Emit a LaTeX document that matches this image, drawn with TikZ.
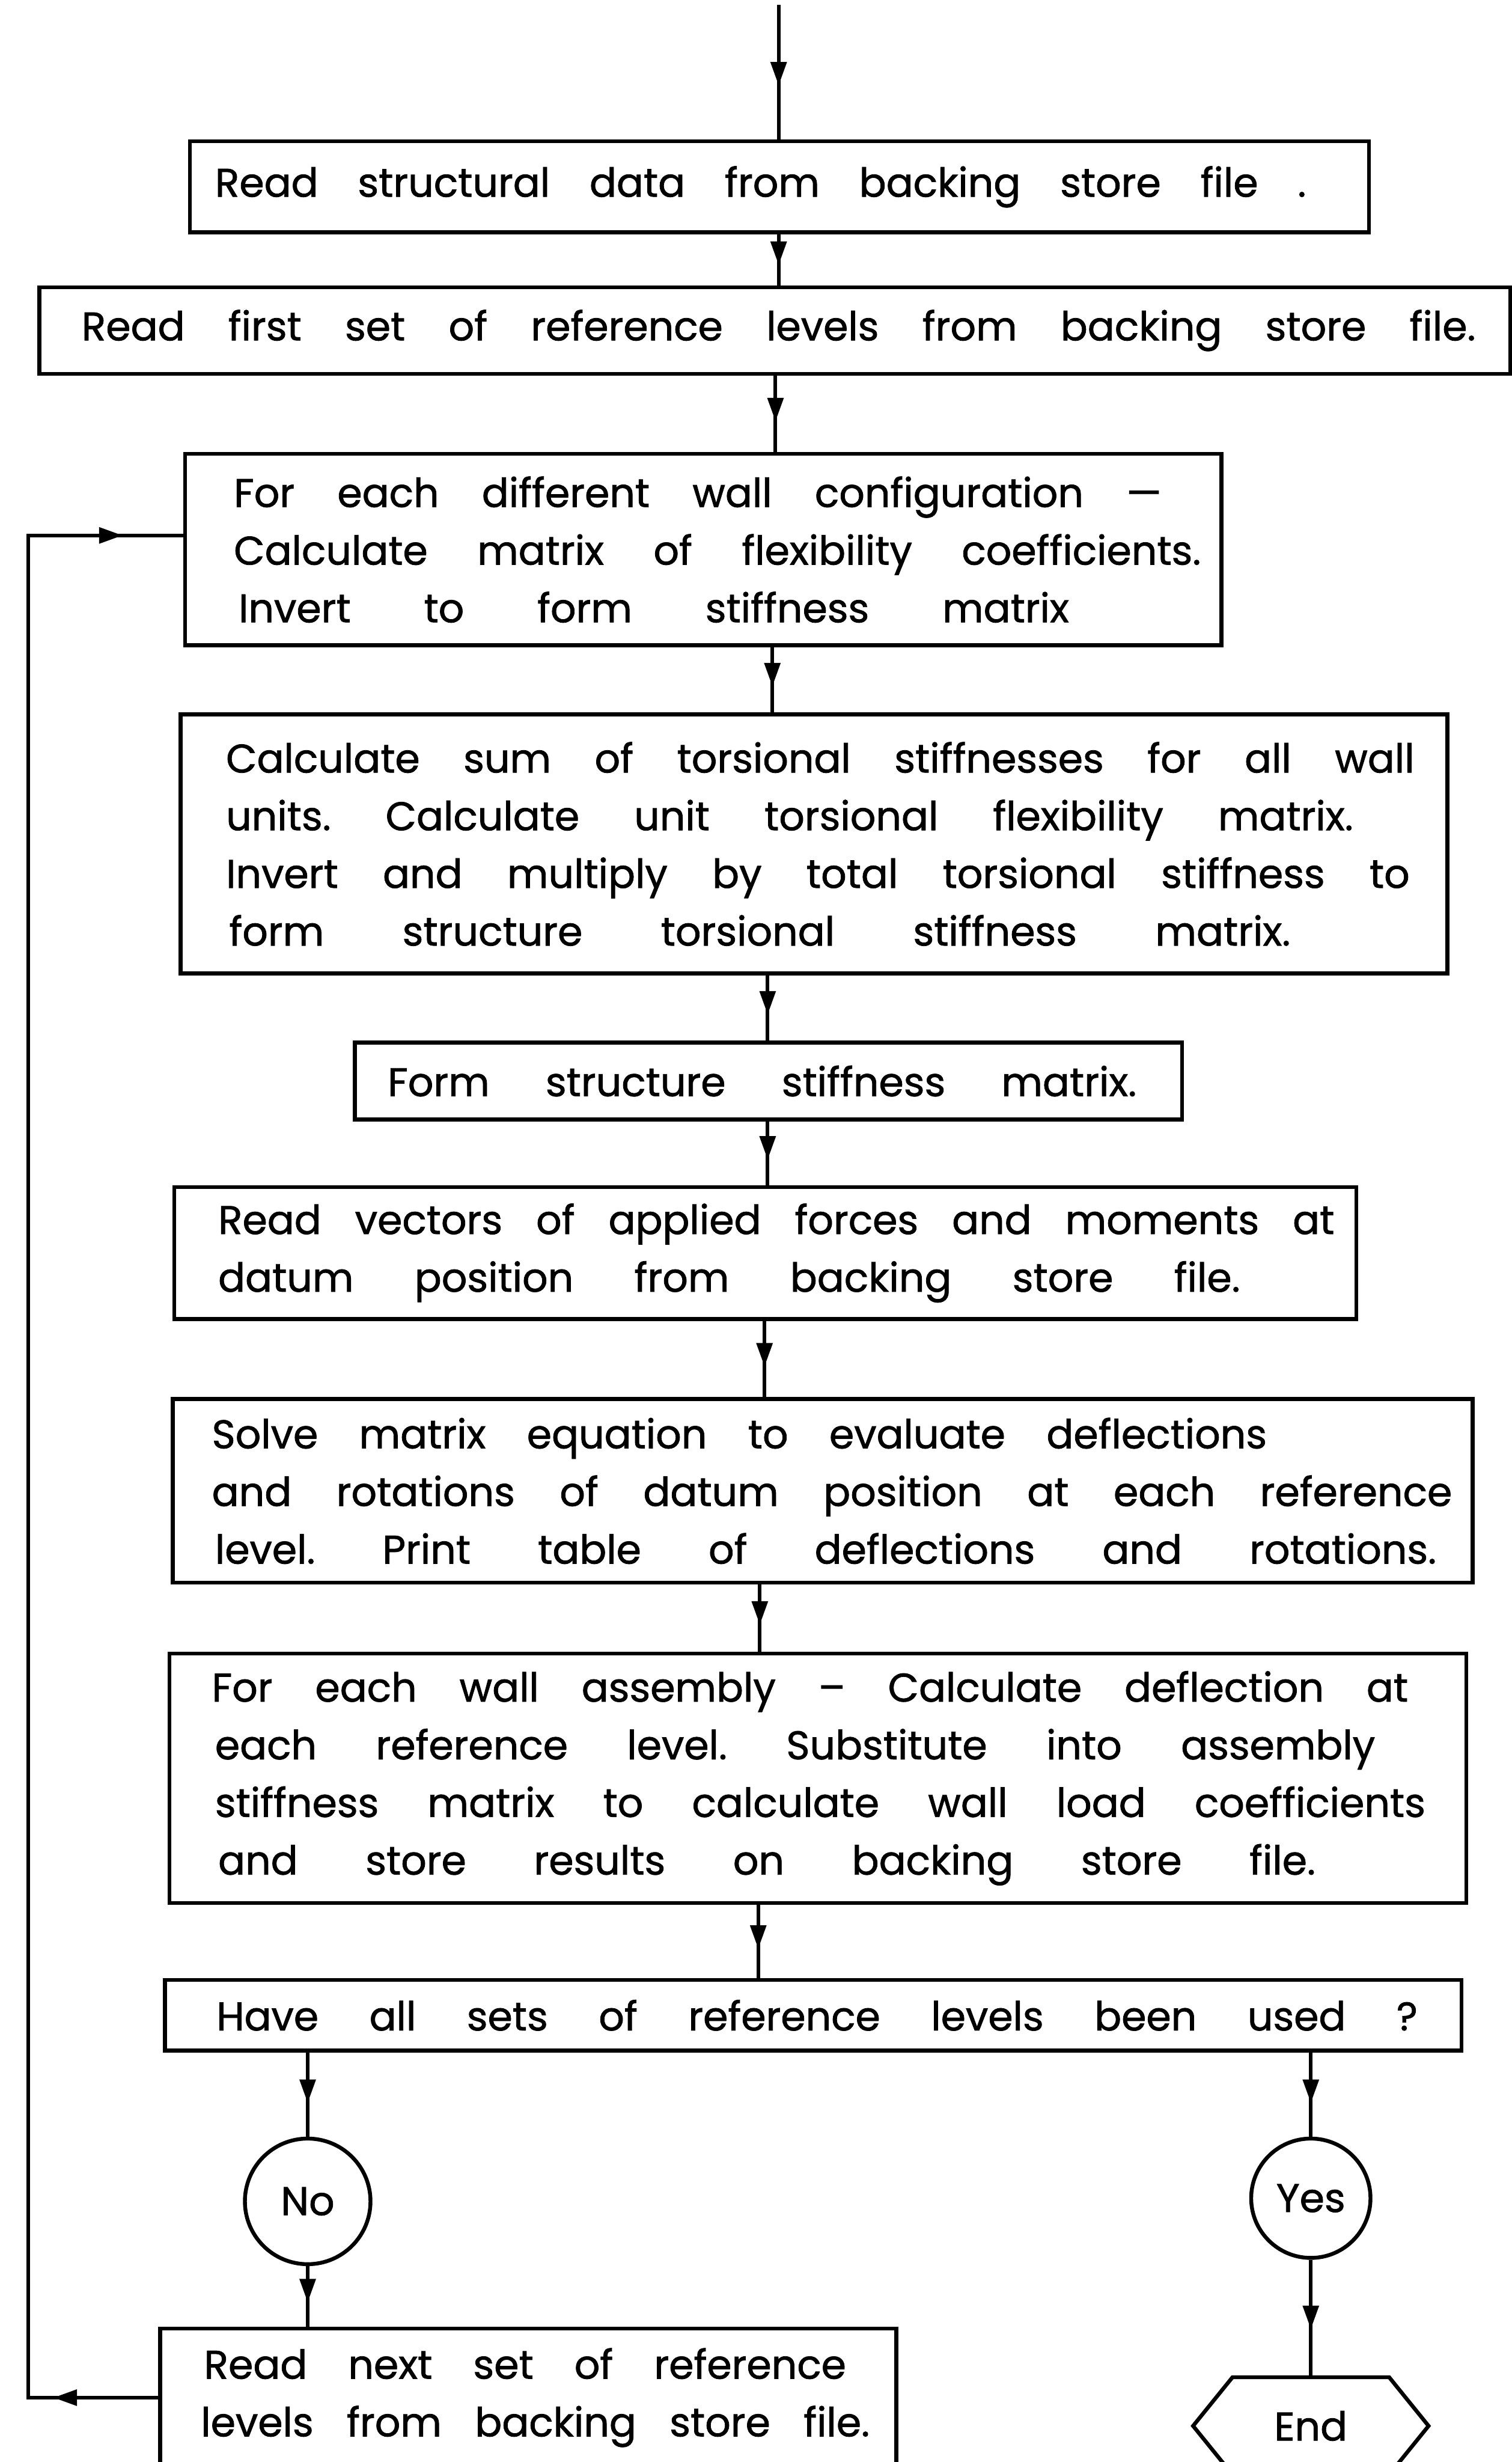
\documentclass[tikz,border=0pt]{standalone}
\usepackage{fontspec}
\setmainfont{Poppins}[FakeBold=1.2]
\usetikzlibrary{arrows.meta,positioning,calc,decorations.markings,shapes.symbols}
\newlength\px
\setlength\px{0.02cm}
\newcommand{\boxline}[4]{\makebox[#1\px][l]{\hspace*{#2\px}\makebox[#3\px][s]{#4}}}
\frenchspacing

\begin{document}
\begin{tikzpicture}[
    x=0.02cm, y=-0.02cm,
    flowtip/.tip={Triangle[length=0.3cm,width=0.2cm]},
    every node/.style={font=\fontsize{14.5pt}{20.9pt}\selectfont},
    procbox/.style={draw, line width=1.4pt, inner sep=0pt, align=left},
    decision/.style={circle, draw, line width=1.4pt, inner sep=0pt},
    endbox/.style={signal, signal to=east and west, signal pointer angle=102, draw, line width=1.4pt, inner sep=0pt, minimum width=150\px, minimum height=62\px},
    flow/.style={line width=1.3pt, postaction={decorate}, decoration={markings, mark=at position 0.6 with {\arrow{flowtip}}}},
    backflow/.style={line width=1.3pt, postaction={decorate}, decoration={markings, mark=at position 38pt with {\arrow{flowtip}}, mark=at position -22pt with {\arrow{flowtip}}}}
]
\useasboundingbox (0,0) rectangle (963,1568);

\node[procbox, minimum width=751\px, minimum height=58\px] (rd1) at (496.5,119) {\boxline{751}{16}{695}{Read structural data from backing store file .}};
\node[procbox, minimum width=937\px, minimum height=55\px] (rd2) at (493.5,210.5) {\boxline{937}{27}{888}{Read first set of reference levels from backing store file.}};
\node[procbox, minimum width=660\px, minimum height=122\px] (cfg) at (448,350) {\boxline{660}{31}{591}{For each different wall configuration ---}\\
\boxline{660}{31}{616}{Calculate matrix of flexibility coefficients.}\\
\boxline{660}{34}{529}{Invert to form stiffness matrix}};
\node[procbox, minimum width=807\px, minimum height=165\px] (tor) at (518.5,537.5) {\boxline{807}{29}{757}{Calculate sum of torsional stiffnesses for all wall}\\
\boxline{807}{29}{718}{units. Calculate unit torsional flexibility matrix.}\\
\boxline{807}{29}{754}{Invert and multiply by total torsional stiffness to}\\
\boxline{807}{31}{676}{form structure torsional stiffness matrix.}};
\node[procbox, minimum width=527\px, minimum height=49\px] (stf) at (489.5,688.5) {\boxline{527}{21}{477}{Form structure stiffness matrix.}};
\node[procbox, minimum width=753\px, minimum height=84\px] (vec) at (487.5,798) {\boxline{753}{28}{711}{Read vectors of applied forces and moments at}\\
\boxline{753}{28}{651}{datum position from backing store file.}};
\node[procbox, minimum width=828\px, minimum height=117\px] (sol) at (524,949.5) {\boxline{828}{25}{672}{Solve matrix equation to evaluate deflections}\\
\boxline{828}{25}{790}{and rotations of datum position at each reference}\\
\boxline{828}{27}{778}{level. Print table of deflections and rotations.}};
\node[procbox, minimum width=826\px, minimum height=159\px] (asm) at (521,1132.5) {\boxline{826}{27}{762}{For each wall assembly -- Calculate deflection at}\\
\boxline{826}{29}{739}{each reference level. Substitute into assembly}\\
\boxline{826}{29}{771}{stiffness matrix to calculate wall load coefficients}\\
\boxline{826}{31}{699}{and store results on backing store file.}};
\node[procbox, minimum width=826\px, minimum height=45\px] (qry) at (518,1283.5) {\boxline{826}{33}{765}{Have all sets of reference levels been used ?}};
\node[decision, minimum size=80\px] (no) at (196,1402) {No};
\node[decision, minimum size=76\px] (yes) at (835,1400) {Yes};
\node[procbox, minimum width=469\px, minimum height=88\px] (nxt) at (336.5,1527) {\boxline{469}{28}{409}{Read next set of reference}\\
\boxline{469}{26}{426}{levels from backing store file.}};
\node[endbox] (end) at (835,1545) {End};

\coordinate (entry) at (496,3);
\draw[flow] (entry) -- (entry |- rd1.north);
\foreach \a/\b/\x in {rd1/rd2/496, rd2/cfg/494, cfg/tor/492, tor/stf/489, stf/vec/489, vec/sol/487, sol/asm/484, asm/qry/483} {
  \coordinate (sp) at (\x,0);
  \draw[flow] (sp |- \a.south) -- (sp |- \b.north);
}
\draw[flow] (no.north |- qry.south) -- (no.north);
\draw[flow] (no.south) -- (no.south |- nxt.north);
\draw[flow] (yes.north |- qry.south) -- (yes.north);
\draw[flow] (yes.south) -- (yes.south |- end.north);

\coordinate (loopx) at (18,341);
\draw[backflow] (nxt.west) -| (loopx) -- (cfg.west |- loopx);

\end{tikzpicture}
\end{document}
